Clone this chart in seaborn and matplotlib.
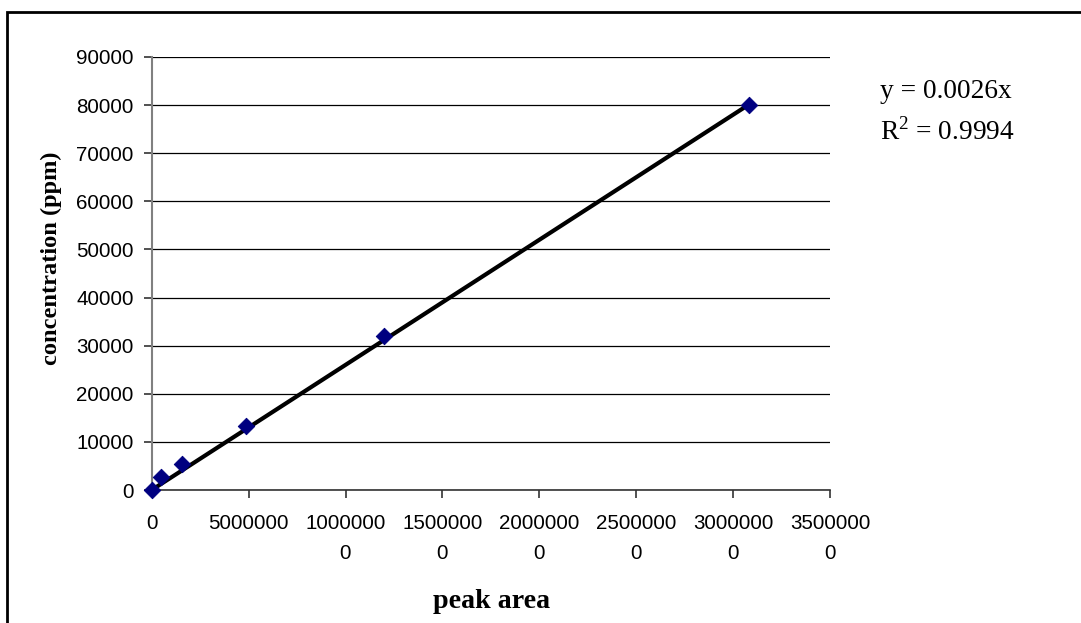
import matplotlib
matplotlib.use("Agg")
import matplotlib.pyplot as plt
from matplotlib.patches import Rectangle
import numpy as np
import pandas as pd
import seaborn as sns

# Calibration standards
peak_area = [0, 480000, 1550000, 4880000, 12000000, 30800000]
concentration = [0, 2600, 5450, 13300, 32000, 80000]

# Linear fit through the origin
slope = 0.0026
r_squared = 0.9994

x_ticks = [0, 5000000, 10000000, 15000000, 20000000, 25000000, 30000000, 35000000]
x_tick_labels = ["0", "5000000", "1000000\n0", "1500000\n0", "2000000\n0",
                 "2500000\n0", "3000000\n0", "3500000\n0"]
y_ticks = [0, 10000, 20000, 30000, 40000, 50000, 60000, 70000, 80000, 90000]

sns.set_theme(style="white")
plt.rcParams["font.family"] = ["Liberation Sans", "DejaVu Sans"]
plt.rcParams["text.color"] = "black"
plt.rcParams["mathtext.fontset"] = "custom"
plt.rcParams["mathtext.rm"] = "Liberation Serif"

W, H = 1081, 623
fig = plt.figure(figsize=(W / 100, H / 100), dpi=100)
fig.patch.set_facecolor("white")

# Chart frame
fig.patches.append(Rectangle((7 / W, -0.1), 2.0, 1 - 12 / H + 0.1,
                             transform=fig.transFigure, fill=False,
                             edgecolor="black", linewidth=2, zorder=0))

left, right = 151.7 / W, 830 / W
top, bottom = 1 - 57 / H, 1 - 490 / H
ax = fig.add_axes([left, bottom, right - left, top - bottom])
ax.set_facecolor("white")

data = pd.DataFrame({"peak area": peak_area, "concentration": concentration})
fit = pd.DataFrame({"x": [0, max(peak_area)]})
fit["y"] = slope * fit["x"]

sns.lineplot(data=fit, x="x", y="y", ax=ax, color="black", linewidth=3,
             zorder=3)
sns.scatterplot(data=data, x="peak area", y="concentration", ax=ax,
                marker="D", s=70, color="#000080", edgecolor="#000080",
                zorder=4, clip_on=False)

ax.set_xlim(0, 35000000)
ax.set_ylim(0, 90000)
ax.set_xticks(x_ticks)
ax.set_xticklabels(x_tick_labels, linespacing=1.72)
ax.set_yticks(y_ticks)
ax.set_yticklabels([str(v) for v in y_ticks])

ax.grid(axis="y", color="black", linewidth=0.9)
ax.grid(axis="x", visible=False)
ax.set_axisbelow(True)

for s in ["top", "right"]:
    ax.spines[s].set_visible(False)
ax.spines["left"].set_color("#808080")
ax.spines["left"].set_linewidth(1.5)
ax.spines["bottom"].set_color("#333333")
ax.spines["bottom"].set_linewidth(1.2)

ax.tick_params(axis="x", direction="out", length=6, width=1.2, color="#333333",
               pad=11.5, labelsize=14.8, labelcolor="black", bottom=True)
ax.tick_params(axis="y", direction="out", length=6, width=1.2, color="#333333",
               pad=7, labelsize=14.8, labelcolor="black", left=True)

ax.set_xlabel("")
ax.set_ylabel("")
fig.text(492 / W, 1 - 601 / H, "peak area", ha="center", va="center",
         family="Liberation Serif", fontweight="bold", fontsize=20.2,
         color="black")
fig.text(51.7 / W, 1 - 258 / H, "concentration (ppm)", ha="center",
         va="center", rotation=90, family="Liberation Serif",
         fontweight="bold", fontsize=17.6, color="black")

fig.text(880 / W, 1 - 97.7 / H, f"y = {slope}x", ha="left", va="baseline",
         family="Liberation Serif", fontsize=19.7, color="black")
fig.text(880 / W, 1 - 140 / H, rf"R$^{{2}}$ = {r_squared}", ha="left",
         va="baseline", family="Liberation Serif", fontsize=19.7,
         color="black")

fig.savefig("out.png", dpi=100, facecolor="white")
